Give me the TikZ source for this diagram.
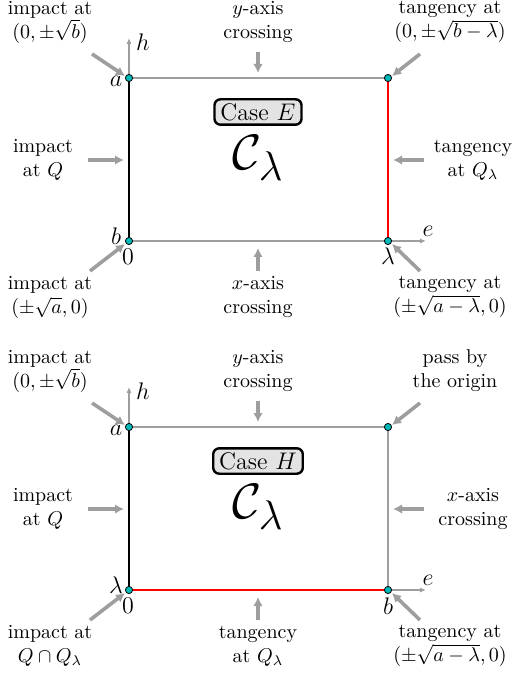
\documentclass[tikz,border=0pt]{standalone}
\usepackage{amsmath,amssymb}
\usetikzlibrary{arrows.meta}
\definecolor{dotc}{RGB}{0,185,185}
\definecolor{lgray}{gray}{0.62}
\begin{document}
\begin{tikzpicture}[x=0.5pt,y=-0.5pt,
  lbl/.style={align=center, inner sep=0pt, font=\normalsize},
  ptr/.style={draw=lgray, line width=1.8pt, -{Latex[length=4.5pt,width=4.8pt]}},
  axisline/.style={draw=lgray, line width=0.6pt, -{Latex[length=3pt,width=2.6pt]}},
  grayedge/.style={draw=lgray, line width=1.2pt},
  blackedge/.style={draw=black, line width=1.3pt},
  rededge/.style={draw=red, line width=1.3pt},
  dot/.style={circle, fill=dotc, draw=black, line width=0.4pt, inner sep=0pt, minimum size=3.6pt},
  casebox/.style={draw=black, line width=1.2pt, rounded corners=3pt, fill=gray!22, font=\large, inner xsep=3pt, inner ysep=2pt},
  bigc/.style={font=\Huge, inner sep=0pt},
  axlbl/.style={inner sep=0pt, font=\large}
]
\useasboundingbox (0,0) rectangle (513,673);

% ================= Panel E =================
\coordinate (ETL) at (129,78);
\coordinate (ETR) at (388,78);
\coordinate (EBL) at (129,241);
\coordinate (EBR) at (388,241);
\coordinate (Eh) at (129,38);
\coordinate (Ee) at (426,241);
\draw[axisline] (ETL) -- (Eh);
\draw[axisline] (EBR) -- (Ee);
\draw[grayedge] (ETL) -- (ETR);
\draw[grayedge] (EBL) -- (EBR);
\draw[blackedge] (ETL) -- (EBL);
\draw[rededge] (ETR) -- (EBR);
\node[dot] (dETL) at (ETL) {};
\node[dot] (dETR) at (ETR) {};
\node[dot] (dEBL) at (EBL) {};
\node[dot] (dEBR) at (EBR) {};
\node[axlbl] (Ehl) at (143,42) {$h$};
\node[axlbl] (Eel) at (428,231) {$e$};
\node[axlbl] (Eal) at (116,81) {$a$};
\node[axlbl] (Ebl) at (116,236) {$b$};
\node[axlbl] (E0l) at (128,257) {$0$};
\node[axlbl] (Elaml) at (388,256) {$\lambda$};
\node[casebox] (Ecase) at (258,112) {Case $E$};
\node[bigc] (EC) at (258,158) {$\mathcal{C}_\lambda$};

\node[lbl] (EtTL) at (50,22) {impact at\\$(0,\pm\sqrt{b})$};
\node[lbl] (EtT) at (258,22) {$y$-axis\\crossing};
\node[lbl] (EtTR) at (450,22) {tangency at\\$(0,\pm\sqrt{b-\lambda})$};
\node[lbl] (EtL) at (43,160) {impact\\at $Q$};
\node[lbl] (EtR) at (473,160) {tangency\\at $Q_\lambda$};
\node[lbl] (EtBL) at (50,297) {impact at\\$(\pm\sqrt{a},0)$};
\node[lbl] (EtB) at (258,297) {$x$-axis\\crossing};
\node[lbl] (EtBR) at (450,297) {tangency at\\$(\pm\sqrt{a-\lambda},0)$};

\coordinate (EaTL) at (92,54);   \coordinate (EhTL) at (125,76);
\coordinate (EaT) at (258,52);   \coordinate (EhT) at (258,73);
\coordinate (EaTR) at (420,54);  \coordinate (EhTR) at (392,76);
\coordinate (EaL) at (88,160);   \coordinate (EhL) at (124,160);
\coordinate (EaR) at (424,160);  \coordinate (EhR) at (393,160);
\coordinate (EaBL) at (90,271);  \coordinate (EhBL) at (125,244);
\coordinate (EaB) at (258,271);  \coordinate (EhB) at (258,248);
\coordinate (EaBR) at (420,271); \coordinate (EhBR) at (392,244);
\foreach \p in {TL,T,TR,L,R,BL,B,BR}{\draw[ptr] (Ea\p) -- (Eh\p);}

% ================= Panel H =================
\begin{scope}[shift={(0,349)}]
\coordinate (HTL) at (129,78);
\coordinate (HTR) at (388,78);
\coordinate (HBL) at (129,241);
\coordinate (HBR) at (388,241);
\coordinate (Hh) at (129,38);
\coordinate (He) at (426,241);
\draw[axisline] (HTL) -- (Hh);
\draw[axisline] (HBR) -- (He);
\draw[grayedge] (HTL) -- (HTR);
\draw[grayedge] (HTR) -- (HBR);
\draw[blackedge] (HTL) -- (HBL);
\draw[rededge] (HBL) -- (HBR);
\node[dot] (dHTL) at (HTL) {};
\node[dot] (dHTR) at (HTR) {};
\node[dot] (dHBL) at (HBL) {};
\node[dot] (dHBR) at (HBR) {};
\node[axlbl] (Hhl) at (143,42) {$h$};
\node[axlbl] (Hel) at (428,231) {$e$};
\node[axlbl] (Hal) at (116,81) {$a$};
\node[axlbl] (Hlaml) at (116,236) {$\lambda$};
\node[axlbl] (H0l) at (128,257) {$0$};
\node[axlbl] (Hbl) at (388,257) {$b$};
\node[casebox] (Hcase) at (258,112) {Case $H$};
\node[bigc] (HC) at (258,158) {$\mathcal{C}_\lambda$};

\node[lbl] (HtTL) at (50,22) {impact at\\$(0,\pm\sqrt{b})$};
\node[lbl] (HtT) at (258,22) {$y$-axis\\crossing};
\node[lbl] (HtTR) at (455,22) {pass by\\the origin};
\node[lbl] (HtL) at (43,160) {impact\\at $Q$};
\node[lbl] (HtR) at (473,160) {$x$-axis\\crossing};
\node[lbl] (HtBL) at (50,297) {impact at\\$Q\cap Q_\lambda$};
\node[lbl] (HtB) at (258,297) {tangency\\at $Q_\lambda$};
\node[lbl] (HtBR) at (450,297) {tangency at\\$(\pm\sqrt{a-\lambda},0)$};

\coordinate (HaTL) at (92,54);   \coordinate (HhTL) at (125,76);
\coordinate (HaT) at (258,52);   \coordinate (HhT) at (258,73);
\coordinate (HaTR) at (420,54);  \coordinate (HhTR) at (392,76);
\coordinate (HaL) at (88,160);   \coordinate (HhL) at (124,160);
\coordinate (HaR) at (424,160);  \coordinate (HhR) at (393,160);
\coordinate (HaBL) at (90,271);  \coordinate (HhBL) at (125,244);
\coordinate (HaB) at (258,271);  \coordinate (HhB) at (258,248);
\coordinate (HaBR) at (420,271); \coordinate (HhBR) at (392,244);
\foreach \p in {TL,T,TR,L,R,BL,B,BR}{\draw[ptr] (Ha\p) -- (Hh\p);}
\end{scope}
\end{tikzpicture}
\end{document}
